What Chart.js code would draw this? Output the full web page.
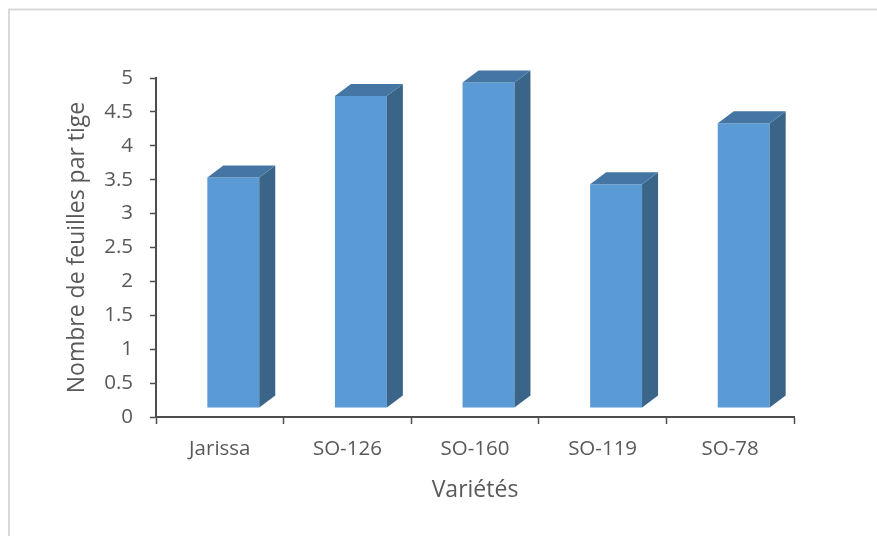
<!DOCTYPE html>
<html>
<head>
<meta charset="utf-8">
<script src="https://cdn.jsdelivr.net/npm/chart.js@4/dist/chart.umd.min.js"></script>
<style>
  body { margin: 0; background: #fff; }
  canvas { display: block; }
</style>
</head>
<body>
<canvas id="mycanvas" width="877" height="536"></canvas>
<script>
var varietes = ["Jarissa", "SO-126", "SO-160", "SO-119", "SO-78"];
var feuilles = [3.4, 4.6, 4.8, 3.3, 4.2];
var yTicks = [0, 0.5, 1, 1.5, 2, 2.5, 3, 3.5, 4, 4.5, 5];

// fake 3D: front faces are pushed back a bit, then side and top faces added
var depthX = 16, depthY = 12;
var shiftX = 13.5, shiftY = -9;

var bars3d = {
	id: 'bars3d',
	beforeDatasetsDraw: function(chart) {
		chart.ctx.save();
		chart.ctx.translate(shiftX, shiftY);
	},
	afterDatasetsDraw: function(chart) {
		var ctx = chart.ctx;
		chart.getDatasetMeta(0).data.forEach(function(bar) {
			var p = bar.getProps(['x', 'y', 'base', 'width']);
			var l = p.x - p.width / 2, r = p.x + p.width / 2;
			// side
			ctx.fillStyle = "#3a6589";
			ctx.beginPath();
			ctx.moveTo(r, p.y);
			ctx.lineTo(r + depthX, p.y - depthY);
			ctx.lineTo(r + depthX, p.base - depthY);
			ctx.lineTo(r, p.base);
			ctx.closePath();
			ctx.fill();
			// top
			ctx.fillStyle = "#4576a3";
			ctx.beginPath();
			ctx.moveTo(l, p.y);
			ctx.lineTo(l + depthX, p.y - depthY);
			ctx.lineTo(r + depthX, p.y - depthY);
			ctx.lineTo(r, p.y);
			ctx.closePath();
			ctx.fill();
		});
		ctx.restore();
	}
};

var frame = {
	id: 'frame',
	beforeDraw: function(chart) {
		var ctx = chart.ctx;
		ctx.save();
		ctx.fillStyle = "#fff";
		ctx.fillRect(0, 0, chart.width, chart.height);
		ctx.strokeStyle = "#d9d9d9";
		ctx.lineWidth = 2;
		ctx.beginPath();
		ctx.moveTo(9, chart.height);
		ctx.lineTo(9, 9.5);
		ctx.lineTo(chart.width, 9.5);
		ctx.stroke();
		ctx.restore();
	}
};

var chartdata = {
	labels: varietes,
	datasets: [
		{
			label: "Nombre de feuilles par tige",
			backgroundColor: "#5b9bd5",
			borderWidth: 0,
			barPercentage: 1,
			categoryPercentage: 0.407,
			data: feuilles
		}
	]
};

var ctx = document.getElementById("mycanvas");

var BarGraph = new Chart(ctx, {
	type: 'bar',
	data: chartdata,
	plugins: [frame, bars3d],
	options: {
		responsive: false,
		animation: false,
		layout: { padding: { top: 78, right: 83, left: 0, bottom: 0 } },
		plugins: {
			legend: { display: false },
			tooltip: { enabled: false }
		},
		scales: {
			x: {
				offset: true,
				afterFit: function(scale) { scale.height = 119; },
				grid: { offset: true, drawOnChartArea: false, tickLength: 7, tickColor: "#4d4d4d", tickWidth: 1.5 },
				border: { color: "#4d4d4d", width: 2 },
				ticks: { color: "#595959", padding: 13, font: { family: "Open Sans", size: 20.5 } },
				title: {
					display: true,
					text: "Variétés",
					color: "#595959",
					font: { family: "Open Sans", size: 23 },
					padding: { top: 0, bottom: 32 }
				}
			},
			y: {
				min: 0,
				max: 5,
				afterFit: function(scale) { scale.width = 156; },
				afterBuildTicks: function(scale) {
					scale.ticks = yTicks.map(function(v) { return { value: v }; });
				},
				grid: { drawOnChartArea: false, tickLength: 6, tickColor: "#4d4d4d", tickWidth: 1.5 },
				border: { color: "#4d4d4d", width: 2 },
				ticks: {
					color: "#595959",
					padding: 17,
					font: { family: "Open Sans", size: 20.5 },
					callback: function(v) { return String(v); }
				},
				title: {
					display: true,
					text: "Nombre de feuilles par tige",
					color: "#595959",
					font: { family: "Open Sans", size: 23 },
					padding: { top: 64, bottom: 0 }
				}
			}
		}
	}
});
</script>
</body>
</html>
